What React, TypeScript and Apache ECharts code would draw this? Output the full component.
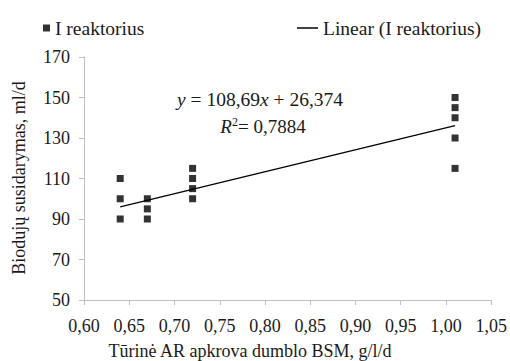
import React, { useEffect, useRef } from "react";
import * as echarts from "echarts";

const seriesName = "I reaktorius";
const trendName = "Linear (I reaktorius)";
const xValues = [0.64, 0.64, 0.64, 0.67, 0.67, 0.67, 0.72, 0.72, 0.72, 0.72, 1.01, 1.01, 1.01, 1.01, 1.01];
const yValues = [110, 100, 90, 100, 95, 90, 115, 110, 105, 100, 150, 145, 140, 130, 115];
const slope = 108.69;
const intercept = 26.374;
const r2 = "0,7884";
const xTitle = "Tūrinė AR apkrova dumblo BSM, g/l/d";
const yTitle = "Biodujų susidarymas, ml/d";

const FONT = "'Liberation Serif', 'Times New Roman', serif";
const TXT = "#1a1a1a";

export default function App() {
  const ref = useRef<HTMLDivElement>(null);
  useEffect(() => {
    document.body.style.margin = "0";
    if (!ref.current) return;
    const chart = echarts.init(ref.current, undefined, { renderer: "svg" });
    const pts = xValues.map((x, i) => [x, yValues[i]]);
    const xmin = Math.min(...xValues);
    const xmax = Math.max(...xValues);
    const trend = [
      [xmin, slope * xmin + intercept],
      [xmax, slope * xmax + intercept],
    ];
    const axisLineColor = "#c0c0c0";
    chart.setOption({
      animation: false,
      textStyle: { fontFamily: FONT },
      grid: { left: 84, right: 18, top: 57, bottom: 61, containLabel: false },
      legend: [
        {
          left: 38,
          top: 13,
          data: [{ name: seriesName, icon: "rect" }],
          itemWidth: 7,
          itemHeight: 7,
          itemGap: 8,
          textStyle: { fontFamily: FONT, fontSize: 19.5, color: TXT },
        },
        {
          left: 292,
          top: 13,
          data: [{ name: trendName, icon: "rect", itemStyle: { color: "#000" } }],
          itemWidth: 21,
          itemHeight: 1.5,
          itemGap: 4,
          textStyle: { fontFamily: FONT, fontSize: 19.5, color: TXT },
        },
      ],
      xAxis: {
        type: "value",
        min: 0.6,
        max: 1.05,
        interval: 0.05,
        splitLine: { show: false },
        axisLine: { lineStyle: { color: axisLineColor } },
        axisTick: { show: true, length: 5, lineStyle: { color: axisLineColor } },
        axisLabel: {
          fontFamily: FONT,
          fontSize: 18,
          color: TXT,
          margin: 17,
          formatter: (v: number) => v.toFixed(2).replace(".", ","),
        },
      },
      yAxis: {
        type: "value",
        min: 50,
        max: 170,
        interval: 20,
        splitLine: { show: false },
        axisLine: { show: true, lineStyle: { color: axisLineColor } },
        axisTick: { show: true, length: 5, lineStyle: { color: axisLineColor } },
        axisLabel: { fontFamily: FONT, fontSize: 18, color: TXT, margin: 14 },
      },
      graphic: [
        {
          type: "text",
          x: 250,
          y: 351,
          style: {
            text: xTitle,
            fontFamily: FONT,
            fontSize: 18,
            fill: TXT,
            align: "center",
            verticalAlign: "middle",
          },
        },
        {
          type: "text",
          x: 19,
          y: 178,
          rotation: Math.PI / 2,
          style: {
            text: yTitle,
            fontFamily: FONT,
            fontSize: 18,
            fill: TXT,
            align: "center",
            verticalAlign: "middle",
          },
        },
        {
          type: "text",
          x: 260,
          y: 99,
          style: {
            text: "{i|y} = 108,69{i|x} + 26,374",
            fontFamily: FONT,
            fontSize: 19.5,
            fill: TXT,
            align: "center",
            verticalAlign: "middle",
            rich: {
              i: { fontFamily: FONT, fontSize: 19.5, fontStyle: "italic", fill: TXT },
            },
          },
        },
        {
          type: "text",
          x: 263,
          y: 126,
          style: {
            text: "{i|R}{s|2}= " + r2,
            fontFamily: FONT,
            fontSize: 19,
            fill: TXT,
            align: "center",
            verticalAlign: "middle",
            rich: {
              i: { fontFamily: FONT, fontSize: 19, fontStyle: "italic", fill: TXT },
              s: { fontFamily: FONT, fontSize: 12, fill: TXT, verticalAlign: "top", padding: [0, 0, 9, 0] },
            },
          },
        },
      ],
      series: [
        {
          name: seriesName,
          type: "scatter",
          data: pts,
          symbol: "rect",
          symbolSize: 7,
          itemStyle: { color: "#000" },
        },
        {
          name: trendName,
          type: "line",
          data: trend,
          showSymbol: false,
          symbol: "none",
          lineStyle: { color: "#000", width: 1.3 },
          itemStyle: { color: "#000" },
        },
      ],
    });
    return () => chart.dispose();
  }, []);
  return <div ref={ref} style={{ width: 510, height: 361 }} />;
}
